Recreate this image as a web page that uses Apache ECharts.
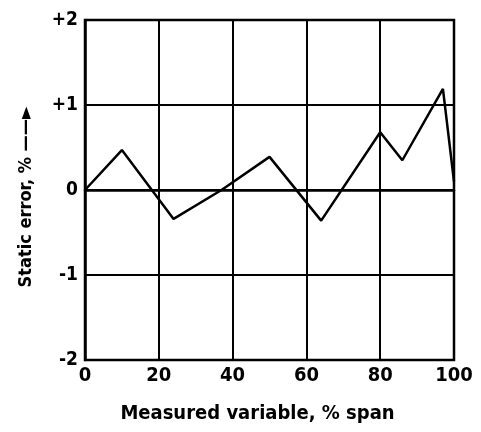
<!DOCTYPE html>
<html>
<head>
<meta charset="utf-8">
<script src="https://cdn.jsdelivr.net/npm/echarts@6/dist/echarts.min.js"></script>
<style>html,body{margin:0;padding:0;background:#fff;}#c{width:481px;height:432px;}</style>
</head>
<body>
<div id="c"></div>
<script>
const xValues = [0, 10, 24, 37, 50, 64, 80, 86, 97, 100];
const errorValues = [0, 0.47, -0.34, 0, 0.39, -0.36, 0.68, 0.35, 1.19, 0.1];
const xTicks = [0, 20, 40, 60, 80, 100];
const yTicks = [-2, -1, 0, 1, 2];

const chart = echarts.init(document.getElementById('c'), null, {renderer: 'canvas'});
const font = '"DejaVu Sans Condensed", "DejaVu Sans", sans-serif';
chart.setOption({
  animation: false,
  backgroundColor: '#fff',
  grid: {left: 85, right: 27, top: 20, bottom: 72, show: true, borderColor: '#000', borderWidth: 2.5},
  xAxis: {
    type: 'value', min: xTicks[0], max: xTicks[xTicks.length - 1], interval: 20,
    name: 'Measured variable, % span', nameLocation: 'middle', nameGap: 44,
    nameTextStyle: {color: '#000', fontFamily: font, fontWeight: 'bold', fontSize: 20, padding: [0, 24, 0, 0]},
    axisLine: {show: true, lineStyle: {color: '#000', width: 2.5}},
    axisTick: {show: false},
    axisLabel: {color: '#000', fontFamily: font, fontWeight: 'bold', fontSize: 20, margin: 6},
    splitLine: {show: true, lineStyle: {color: '#000', width: 2}}
  },
  yAxis: {
    type: 'value', min: yTicks[0], max: yTicks[yTicks.length - 1], interval: 1,
    name: 'Static error, % \u2014\u2014\u25BA', nameLocation: 'middle', nameGap: 50,
    nameTextStyle: {color: '#000', fontFamily: font, fontWeight: 'bold', fontSize: 18, padding: [0, 14, 0, 0]},
    axisLine: {show: true, lineStyle: {color: '#000', width: 2.5}},
    axisTick: {show: false},
    axisLabel: {color: '#000', fontFamily: font, fontWeight: 'bold', fontSize: 19, margin: 7,
      formatter: v => v > 0 ? '+' + v : String(v)},
    splitLine: {show: true, lineStyle: {color: '#000', width: 2}}
  },
  series: [{
    type: 'line',
    data: xValues.map((x, i) => [x, errorValues[i]]),
    showSymbol: false,
    lineStyle: {color: '#000', width: 2.5},
    z: 5
  }]
});
</script>
</body>
</html>
